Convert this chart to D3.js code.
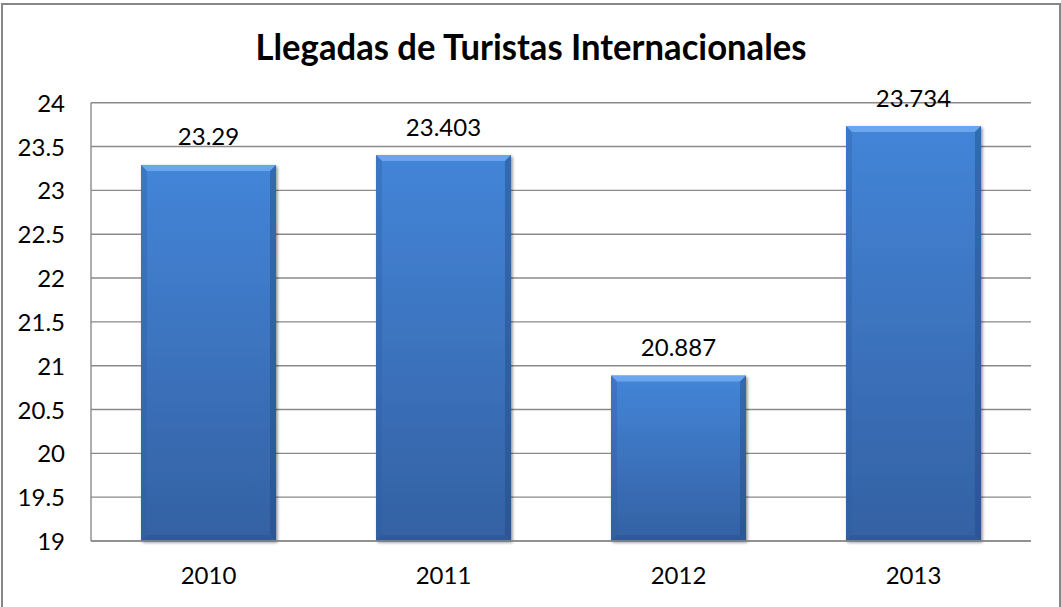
<!DOCTYPE html>
<html>
<head>
<meta charset="utf-8">
<script src="https://cdn.jsdelivr.net/npm/d3@7"></script>
<style>
  html, body { margin: 0; padding: 0; background: #ffffff; }
  svg { display: block; }
  text { font-family: Lato, "Liberation Sans", sans-serif; fill: #000; }
</style>
</head>
<body>
<svg id="chart" width="1061" height="607"></svg>
<script>
const title = "Llegadas de Turistas Internacionales";
const categories = ["2010", "2011", "2012", "2013"];
const values = [23.29, 23.403, 20.887, 23.734];
const valueLabels = ["23.29", "23.403", "20.887", "23.734"];
const yTicks = [19, 19.5, 20, 20.5, 21, 21.5, 22, 22.5, 23, 23.5, 24];

const W = 1061, H = 607;
const margin = { left: 91, right: 30, top: 102.7, bottom: 66 };
const svg = d3.select("#chart");

// outer frame
svg.append("rect")
  .attr("x", 2).attr("y", 4).attr("width", 1058).attr("height", 620)
  .attr("fill", "#fff").attr("stroke", "#878787").attr("stroke-width", 2);

const x = d3.scaleBand().domain(categories)
  .range([margin.left, W - margin.right])
  .paddingInner(0.4255).paddingOuter(0.2128);
const y = d3.scaleLinear().domain([19, 24]).range([H - margin.bottom, margin.top]);

const defs = svg.append("defs");
const grad = defs.append("linearGradient").attr("id", "barGrad")
  .attr("x1", 0).attr("y1", 0).attr("x2", 0).attr("y2", 1);
grad.append("stop").attr("offset", "0%").attr("stop-color", "#4385d8");
grad.append("stop").attr("offset", "100%").attr("stop-color", "#3461a3");

const f = defs.append("filter").attr("id", "shadow")
  .attr("x", "-10%").attr("y", "-10%").attr("width", "130%").attr("height", "130%");
f.append("feDropShadow").attr("dx", 1.5).attr("dy", 1.5).attr("stdDeviation", 1.8)
  .attr("flood-color", "#000").attr("flood-opacity", 0.45);

// gridlines
svg.append("g").selectAll("line").data(yTicks).join("line")
  .attr("x1", margin.left).attr("x2", W - margin.right)
  .attr("y1", d => y(d)).attr("y2", d => y(d))
  .attr("stroke", "#8a8a8a").attr("stroke-width", 1.4);

// left axis line
svg.append("line")
  .attr("x1", margin.left).attr("x2", margin.left)
  .attr("y1", y(24)).attr("y2", y(19))
  .attr("stroke", "#8a8a8a").attr("stroke-width", 1.4);

// y tick labels
svg.append("g").selectAll("text").data(yTicks).join("text")
  .attr("x", 65).attr("y", d => y(d) + 9)
  .attr("text-anchor", "end").attr("font-size", 24)
  .text(d => d3.format("")(d));

// bars
const bars = svg.append("g").selectAll("g").data(values).join("g");
bars.each(function (v, i) {
  const g = d3.select(this);
  const x0 = x(categories[i]), bw = x.bandwidth();
  const y0 = y(v), y1 = y(19);
  const b = 6;
  g.append("rect").attr("x", x0).attr("y", y0).attr("width", bw).attr("height", y1 - y0)
    .attr("fill", "url(#barGrad)").attr("filter", "url(#shadow)");
  // top bevel highlight
  g.append("polygon")
    .attr("points", [[x0, y0], [x0 + bw, y0], [x0 + bw - b, y0 + b], [x0 + b, y0 + b]].join(" "))
    .attr("fill", "#6eaaf0").attr("opacity", 0.9);
  // left bevel
  g.append("polygon")
    .attr("points", [[x0, y0], [x0 + b, y0 + b], [x0 + b, y1 - b], [x0, y1]].join(" "))
    .attr("fill", "#2f5fa3").attr("opacity", 0.35);
  // right bevel
  g.append("polygon")
    .attr("points", [[x0 + bw, y0], [x0 + bw, y1], [x0 + bw - b, y1 - b], [x0 + bw - b, y0 + b]].join(" "))
    .attr("fill", "#23497f").attr("opacity", 0.45);
  // bottom bevel
  g.append("polygon")
    .attr("points", [[x0, y1], [x0 + b, y1 - b], [x0 + bw - b, y1 - b], [x0 + bw, y1]].join(" "))
    .attr("fill", "#274f8a").attr("opacity", 0.4);
});

// bottom axis line
svg.append("line")
  .attr("x1", margin.left).attr("x2", W - margin.right)
  .attr("y1", y(19)).attr("y2", y(19))
  .attr("stroke", "#8a8a8a").attr("stroke-width", 1.4);

// value labels
svg.append("g").selectAll("text").data(values).join("text")
  .attr("x", (d, i) => x(categories[i]) + x.bandwidth() / 2)
  .attr("y", d => y(d) - 19.5)
  .attr("text-anchor", "middle").attr("font-size", 24)
  .text((d, i) => valueLabels[i]);

// category labels
svg.append("g").selectAll("text").data(categories).join("text")
  .attr("x", d => x(d) + x.bandwidth() / 2)
  .attr("y", y(19) + 43)
  .attr("text-anchor", "middle").attr("font-size", 24)
  .text(d => d);

// title
const t = svg.append("text")
  .attr("x", 531).attr("y", 59.5)
  .attr("text-anchor", "middle").attr("font-size", 36).attr("font-weight", "bold")
  .text(title);
const len = t.node().getComputedTextLength();
if (Math.abs(len - 551) > 8) {
  t.attr("textLength", 551).attr("lengthAdjust", "spacingAndGlyphs");
}
</script>
</body>
</html>
